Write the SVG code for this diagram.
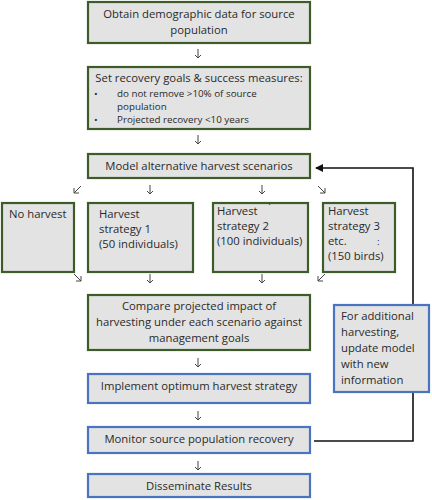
<svg xmlns="http://www.w3.org/2000/svg" width="432" height="500" viewBox="0 0 432 500">
<style>
.g{fill:#e3e3e3;stroke:#3e5c2a;stroke-width:2.2}
.b{fill:#e3e3e3;stroke:#4a74c0;stroke-width:2.2}
text{font-family:"Open Sans","Liberation Sans",sans-serif;font-size:11.3px;fill:#2a2a2a}
.c{text-anchor:middle}
.s{font-size:9.8px}
.a{fill:none;stroke:#444;stroke-width:1}
.fb{fill:none;stroke:#111;stroke-width:1.6}
</style>
<defs>
<marker id="ah" markerWidth="8" markerHeight="8" refX="7" refY="4" orient="auto" markerUnits="userSpaceOnUse">
<path d="M0,0 L8,4 L0,8 z" fill="#111"/>
</marker>
</defs>
<rect width="432" height="500" fill="#fff"/>
<g id="connectors">
<path class="a" d="M198,49V58M195,55L198,58L201,55"/>
<path class="a" d="M198,135V144M195,141L198,144L201,141"/>
<path class="a" d="M81,186L74,193M74,188V193H79"/>
<path class="a" d="M150,185V194M147,191L150,194L153,191"/>
<path class="a" d="M262,185V194M259,191L262,194L265,191"/>
<path class="a" d="M318,186L325,193M325,188V193H320"/>
<path class="a" d="M74,274L81,281M81,276V281H76"/>
<path class="a" d="M150,274V283M147,280L150,283L153,280"/>
<path class="a" d="M262,274V283M259,280L262,283L265,280"/>
<path class="a" d="M325,274L318,281M318,276V281H323"/>
<path class="a" d="M198,358V367M195,364L198,367L201,364"/>
<path class="a" d="M198,411V420M195,417L198,420L201,417"/>
<path class="a" d="M198,461V470M195,467L198,470L201,467"/>
<path class="fb" d="M314,441H413V168H316" marker-end="url(#ah)"/>
</g>
<g id="n1"><rect class="g" x="88" y="2" width="222" height="41"/>
<text class="c" x="199" y="18">Obtain demographic data for source</text>
<text class="c" x="199" y="34">population</text></g>
<g id="n2"><rect class="g" x="88" y="67" width="222" height="62"/>
<text class="c" x="199" y="82">Set recovery goals &amp; success measures:</text>
<text class="s" x="94" y="97">•</text><text class="s" x="117" y="97">do not remove &gt;10% of source</text>
<text class="s" x="117" y="110">population</text>
<text class="s" x="94" y="123">•</text><text class="s" x="117" y="123">Projected recovery &lt;10 years</text></g>
<g id="n3"><rect class="g" x="88" y="154" width="222" height="24"/>
<text class="c" x="199" y="170">Model alternative harvest scenarios</text></g>
<g id="n4"><rect class="g" x="2" y="203" width="72" height="69"/>
<text x="9" y="218">No harvest</text></g>
<g id="n5"><rect class="g" x="88" y="203" width="105" height="69"/>
<text x="99" y="218">Harvest</text><text x="99" y="233">strategy 1</text><text x="99" y="248">(50 individuals)</text></g>
<g id="n6"><rect class="g" x="213" y="203" width="95" height="69"/>
<text x="217" y="215">Harvest</text><text x="268" y="211" class="s">`</text><text x="217" y="230">strategy 2</text><text x="217" y="245">(100 individuals)</text></g>
<g id="n7"><rect class="g" x="323" y="203" width="72" height="69"/>
<text x="328" y="215">Harvest</text><text x="328" y="230">strategy 3</text><text x="328" y="245">etc.</text><text x="377" y="245" class="s">:</text><text x="328" y="260">(150 birds)</text></g>
<g id="n8"><rect class="g" x="88" y="295" width="222" height="55"/>
<text class="c" x="199" y="310">Compare projected impact of</text>
<text class="c" x="199" y="326">harvesting under each scenario against</text>
<text class="c" x="199" y="342">management  goals</text></g>
<g id="n9"><rect class="b" x="88" y="374" width="222" height="29"/>
<text class="c" x="199" y="390">Implement  optimum harvest strategy</text></g>
<g id="n10"><rect class="b" x="88" y="427" width="222" height="26"/>
<text class="c" x="199" y="443">Monitor source population recovery</text></g>
<g id="n11"><rect class="b" x="88" y="474" width="222" height="23"/>
<text class="c" x="199" y="490">Disseminate Results</text></g>
<g id="n12"><rect class="b" x="334" y="305" width="95" height="87"/>
<text x="341" y="320">For additional</text><text x="341" y="336">harvesting,</text><text x="341" y="352">update model</text><text x="341" y="368">with new</text><text x="341" y="384">information</text></g>
</svg>
